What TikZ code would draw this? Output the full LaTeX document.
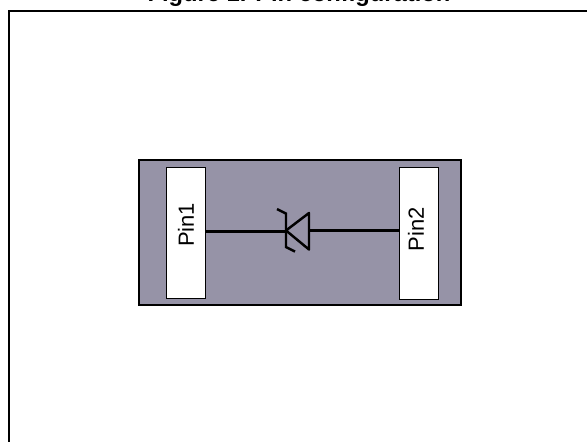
\documentclass[tikz,border=0pt]{standalone}
\usepackage{fontspec}
\setmainfont{Liberation Sans}
\definecolor{bodygray}{RGB}{150,147,167}
\tikzset{
    pinbox/.style={draw=black,line width=0.3pt,fill=white,minimum width=0.78cm,minimum height=2.63cm,inner sep=0pt},
    pinlabel/.style={rotate=90,font=\fontsize{12.5}{14}\selectfont},
    wire/.style={line width=1.4pt}
}
\begin{document}
\begin{tikzpicture}
    \useasboundingbox (0,0) rectangle (11.74,8.82);
    \clip (0,0) rectangle (11.74,8.82);
    \draw[line width=1.6pt] (0.18,-0.2) -- (0.18,8.6) -- (11.9,8.6);
    \node[font=\bfseries\fontsize{13.5}{15}\selectfont] (title) at (5.98,8.91) {Figure 1. Pin configuration};
    \draw[line width=1.7pt,fill=bodygray] (2.78,2.72) rectangle (9.22,5.62);
    \node[pinbox] (pinone) at (3.71,4.165) {};
    \node[pinbox] (pintwo) at (8.37,4.15) {};
    \node[pinlabel] (labelone) at (3.72,4.32) {Pin1};
    \node[pinlabel] (labeltwo) at (8.32,4.23) {Pin2};
    \coordinate (kathode) at (5.72,4.19);
    \coordinate (anode) at (6.18,4.21);
    \draw[wire] (pinone.east |- kathode) -- (kathode);
    \draw[wire] (anode) -- (pintwo.west |- anode);
    \draw[wire,line join=round] (6.18,4.56) -- (5.72,4.21) -- (6.18,3.83) -- cycle;
    \draw[wire] (5.54,4.64) -- (5.72,4.55) -- (5.72,3.88) -- (5.9,3.79);
\end{tikzpicture}
\end{document}
